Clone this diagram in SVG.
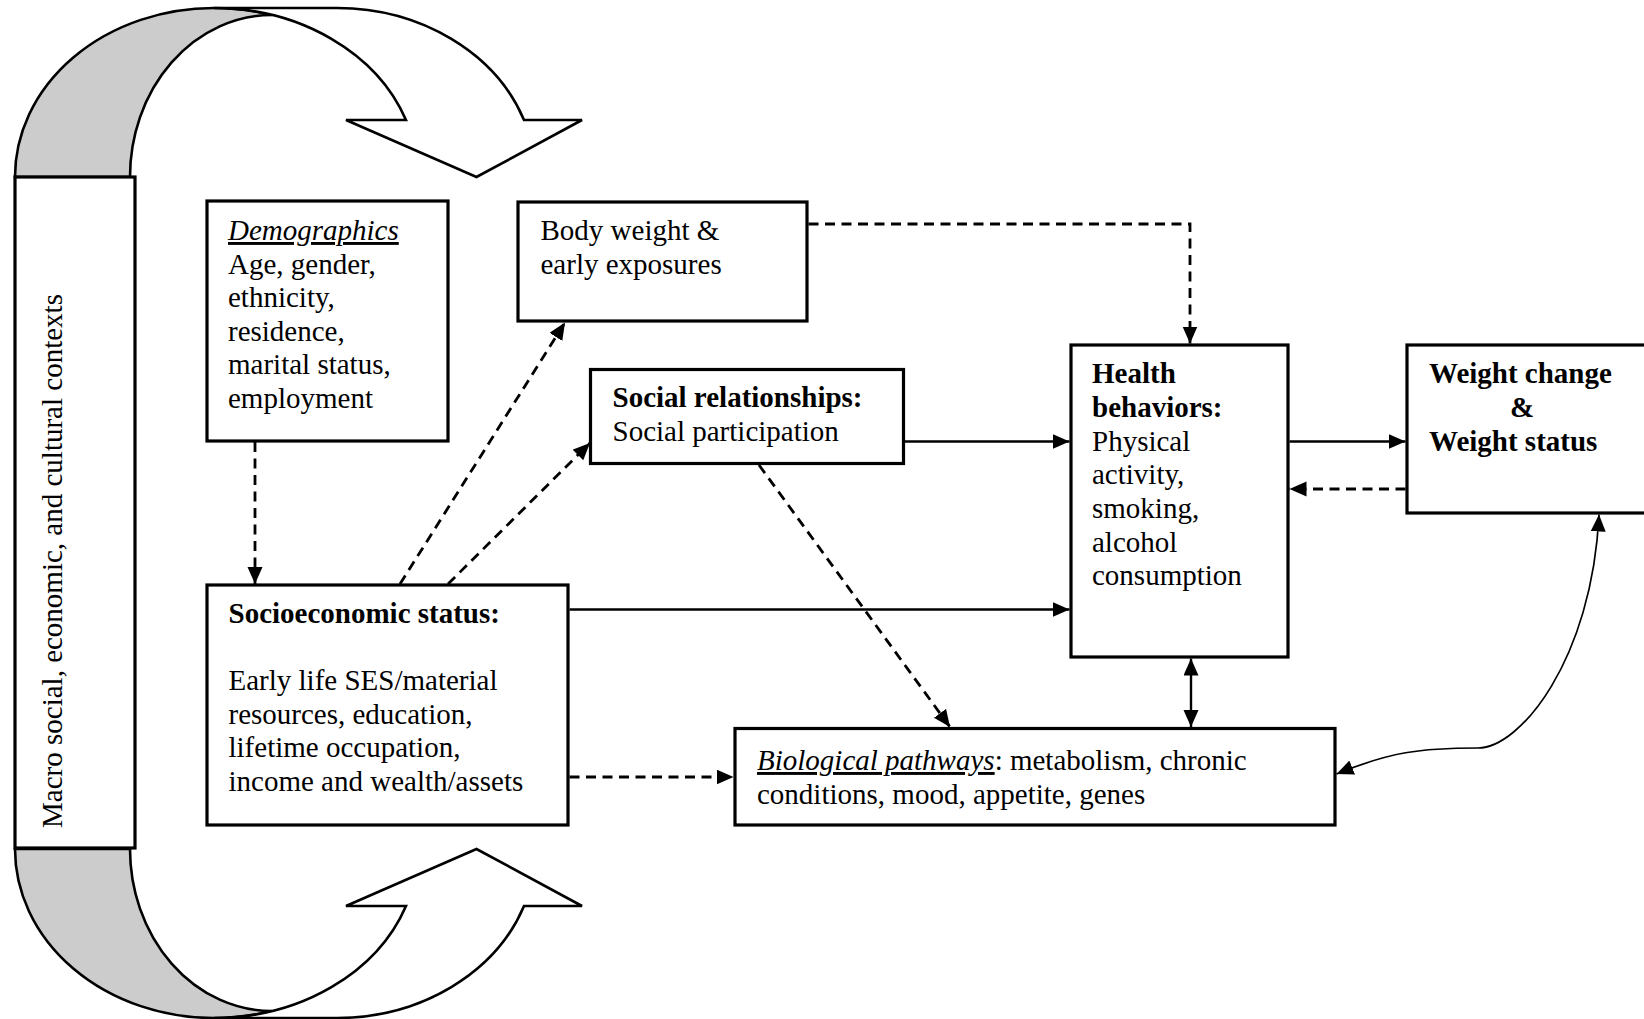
<svg xmlns="http://www.w3.org/2000/svg" width="1644" height="1019" viewBox="0 0 1644 1019">
<defs>
<style>
.box{fill:#fff;stroke:#000;stroke-width:3.2}
.t{font-family:"Liberation Serif","Times New Roman",serif;font-size:29px;fill:#000}
.b{font-weight:bold}
.iu{font-style:italic;text-decoration:underline}
.ln{fill:none;stroke:#000;stroke-width:2.4}
.ds{fill:none;stroke:#000;stroke-width:2.8;stroke-dasharray:10 6.5}
.thin{fill:none;stroke:#000;stroke-width:1.7}
.band{stroke:#000;stroke-width:2.6;stroke-linejoin:miter}
</style>
<marker id="ah" markerUnits="userSpaceOnUse" markerWidth="18" markerHeight="16" refX="17" refY="7.5" orient="auto-start-reverse" viewBox="0 0 18 16">
<path d="M0,0 L17,7.5 L0,15 Z" fill="#000"/>
</marker>
</defs>

<g id="macro-arrows">
<path class="band" fill="#cccccc" d="M15,177 A199,169 0 0 1 214,8 A204,169 0 0 1 272,15 A142,162 0 0 0 130,177 Z"/>
<path class="band" fill="#ffffff" d="M214,8 L337,8 A199,169 0 0 1 524,120 L582,120 L476.5,177 L346,120 L406,120 A204,169 0 0 0 214,8 Z"/>
<path class="band" fill="#cccccc" d="M15,849 A199,169 0 0 0 214,1018 A204,169 0 0 0 272,1011 A142,162 0 0 1 130,849 Z"/>
<path class="band" fill="#ffffff" d="M214,1018 L337,1018 A199,169 0 0 0 524,906 L582,906 L476.5,849 L346,906 L406,906 A204,169 0 0 1 214,1018 Z"/>
</g>

<g id="macro">
<rect class="box" x="15" y="177" width="120" height="671"/>
<text class="t" transform="translate(62,561) rotate(-90)" text-anchor="middle">Macro social, economic, and cultural contexts</text>
</g>

<g id="demographics">
<rect class="box" x="207" y="201" width="241" height="240"/>
<text class="t" x="228" y="240"><tspan class="iu">Demographics</tspan></text>
<text class="t" x="228" y="273.5">Age, gender,</text>
<text class="t" x="228" y="307">ethnicity,</text>
<text class="t" x="228" y="340.5">residence,</text>
<text class="t" x="228" y="374">marital status,</text>
<text class="t" x="228" y="407.5">employment</text>
</g>

<g id="body-weight">
<rect class="box" x="518" y="202" width="289" height="119"/>
<text class="t" x="540.5" y="240">Body weight &amp;</text>
<text class="t" x="540.5" y="273.5">early exposures</text>
</g>

<g id="social">
<rect class="box" x="590.5" y="369.5" width="313" height="94"/>
<text class="t b" x="612.5" y="407">Social relationships:</text>
<text class="t" x="612.5" y="440.5">Social participation</text>
</g>

<g id="ses">
<rect class="box" x="207" y="585" width="361" height="240"/>
<text class="t b" x="228.5" y="623">Socioeconomic status:</text>
<text class="t" x="228.5" y="690">Early life SES/material</text>
<text class="t" x="228.5" y="724">resources, education,</text>
<text class="t" x="228.5" y="757">lifetime occupation,</text>
<text class="t" x="228.5" y="791">income and wealth/assets</text>
</g>

<g id="health">
<rect class="box" x="1071" y="345" width="217" height="312"/>
<text class="t b" x="1092" y="383">Health</text>
<text class="t b" x="1092" y="417">behaviors:</text>
<text class="t" x="1092" y="450.5">Physical</text>
<text class="t" x="1092" y="484">activity,</text>
<text class="t" x="1092" y="518">smoking,</text>
<text class="t" x="1092" y="551.5">alcohol</text>
<text class="t" x="1092" y="585">consumption</text>
</g>

<g id="weight">
<rect class="box" x="1407" y="345" width="260" height="168"/>
<text class="t b" x="1429" y="383">Weight change</text>
<text class="t b" x="1510" y="417">&amp;</text>
<text class="t b" x="1429" y="450.5">Weight status</text>
</g>

<g id="biological">
<rect class="box" x="735" y="728.5" width="600" height="96.5"/>
<text class="t" x="757" y="770"><tspan class="iu">Biological pathways</tspan>: metabolism, chronic</text>
<text class="t" x="757" y="803.5">conditions, mood, appetite, genes</text>
</g>

<g id="connectors">
<path class="ds" d="M255,442 L255,584" marker-end="url(#ah)"/>
<path class="ds" d="M400,584 L565,322.5" marker-end="url(#ah)"/>
<path class="ds" d="M448,584 L590,443" marker-end="url(#ah)"/>
<path class="ds" d="M808.5,224 L1190,224 L1190,343.5" marker-end="url(#ah)"/>
<path class="ln" d="M905,441.5 L1069.5,441.5" marker-end="url(#ah)"/>
<path class="ln" d="M569.5,609.5 L1069.5,609.5" marker-end="url(#ah)"/>
<path class="ds" d="M759,465 L950,727" marker-end="url(#ah)"/>
<path class="ds" d="M569.5,777 L733.5,777" marker-end="url(#ah)"/>
<path class="ln" d="M1191,658.5 L1191,727" marker-start="url(#ah)" marker-end="url(#ah)"/>
<path class="ln" d="M1289.5,441.5 L1405.5,441.5" marker-end="url(#ah)"/>
<path class="ds" d="M1405.5,489 L1289.5,489" marker-end="url(#ah)"/>
<path class="thin" d="M1336.5,774 C1390,752 1420,748 1478,748 C1520,748 1592,660 1599,514.5" marker-start="url(#ah)" marker-end="url(#ah)"/>
</g>
</svg>
